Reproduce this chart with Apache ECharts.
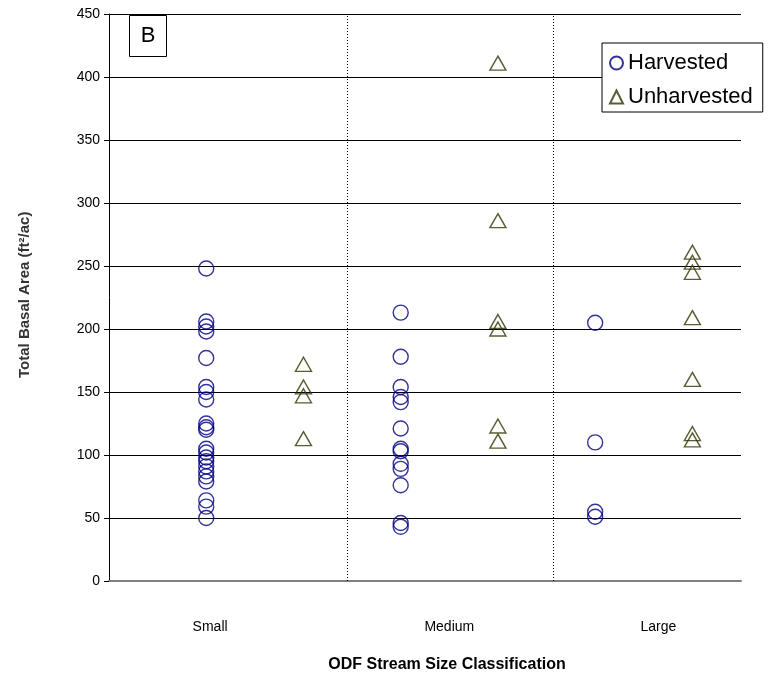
<!DOCTYPE html>
<html>
<head>
<meta charset="utf-8">
<title>Total Basal Area by ODF Stream Size</title>
<script src="https://cdn.jsdelivr.net/npm/echarts@6/dist/echarts.min.js"></script>
<style>
  html, body { margin: 0; padding: 0; background: #fff; }
  #chart { width: 781px; height: 681px; }
</style>
</head>
<body>
<div id="chart"></div>
<script>
// Stream size classes (ODF classification)
const categories = ['Small', 'Medium', 'Large'];

// Total basal area per site, harvested reaches
const harvestedSmall = [248, 206, 202, 198, 177, 154, 150, 144, 125, 122, 120,
  105, 102, 98, 95, 91, 87, 83, 79, 64, 59, 50];
const harvestedMedium = [213, 178, 154, 146, 142, 121, 105, 103, 93, 89, 76, 46, 43];
const harvestedLarge = [205, 110, 55, 51];

// Total basal area per site, unharvested reaches
const unharvestedSmall = [172, 154, 147, 113];
const unharvestedMedium = [411, 286, 206, 200, 123, 111];
const unharvestedLarge = [261, 253, 245, 209, 160, 117, 112];

// Y axis ticks
const yTicks = [0, 50, 100, 150, 200, 250, 300, 350, 400, 450];

// Horizontal slot of each class: harvested at 1/3/5, unharvested at 2/4/6
const harvestedGroups = [harvestedSmall, harvestedMedium, harvestedLarge];
const unharvestedGroups = [unharvestedSmall, unharvestedMedium, unharvestedLarge];

function toPoints(groups, offset) {
  const pts = [];
  groups.forEach((vals, gi) => {
    vals.forEach(v => pts.push([gi * 2 + offset, v]));
  });
  return pts;
}

const FONT = '"Liberation Sans", Arial, sans-serif';
const NAVY = '#000080';
const OLIVE = '#333300';

// Layout of class labels and dotted separators along the x scale
const classLabelX = [1.04, 3.5, 5.65];
const separatorX = [2.45, 4.57];

const chart = echarts.init(document.getElementById('chart'));

const option = {
  animation: false,
  backgroundColor: '#fff',
  grid: { left: 109, top: 14, width: 632, height: 567, containLabel: false },
  xAxis: {
    type: 'value',
    min: 0,
    max: 6.5,
    axisLine: { show: true, onZero: false, lineStyle: { color: '#808080', width: 2 } },
    axisTick: { show: false },
    axisLabel: { show: false },
    splitLine: { show: false }
  },
  yAxis: {
    type: 'value',
    min: yTicks[0],
    max: yTicks[yTicks.length - 1],
    interval: yTicks[1] - yTicks[0],
    axisLine: { show: true, lineStyle: { color: '#000', width: 1 } },
    axisTick: { show: true, length: 5, lineStyle: { color: '#000' } },
    axisLabel: { color: '#000', fontSize: 14, fontFamily: FONT, margin: 9 },
    splitLine: { show: true, lineStyle: { color: '#000', width: 1 } }
  },
  legend: {
    orient: 'vertical',
    left: 602,
    top: 43,
    data: ['Harvested', 'Unharvested'],
    backgroundColor: '#fff',
    borderColor: '#000',
    borderWidth: 1,
    borderRadius: 0,
    padding: [9, 10, 4, 7],
    itemGap: 12,
    itemWidth: 13,
    itemHeight: 13,
    textStyle: { fontSize: 22, color: '#000', fontFamily: FONT, padding: [0, 0, 0, 0] }
  },
  series: [
    {
      name: 'Harvested',
      type: 'scatter',
      symbol: 'circle',
      symbolSize: 15,
      data: toPoints(harvestedGroups, 1),
      itemStyle: { color: 'rgba(0,0,0,0)', borderColor: NAVY, borderWidth: 1.4 },
      markLine: {
        silent: true,
        symbol: 'none',
        label: { show: false },
        lineStyle: { color: '#000', type: [1, 2], width: 1 },
        data: separatorX.map(x => ({ xAxis: x }))
      },
      z: 3
    },
    {
      name: 'Unharvested',
      type: 'scatter',
      symbol: 'triangle',
      symbolSize: [16, 14],
      data: toPoints(unharvestedGroups, 2),
      itemStyle: { color: 'rgba(0,0,0,0)', borderColor: OLIVE, borderWidth: 1.4 },
      z: 3
    }
  ]
};

chart.setOption(option);

// Class labels, axis titles and panel tag
const baseY = chart.convertToPixel({ gridIndex: 0 }, [0, 0])[1];
const graphics = categories.map((name, i) => {
  const px = chart.convertToPixel({ gridIndex: 0 }, [classLabelX[i], 0]);
  return {
    type: 'text',
    x: px[0],
    y: baseY + 46,
    style: {
      text: name, fill: '#000', font: '14px ' + FONT,
      textAlign: 'center', textVerticalAlign: 'middle'
    }
  };
});

graphics.push({
  type: 'text',
  x: 447,
  y: 665,
  style: {
    text: 'ODF Stream Size Classification', fill: '#000',
    font: 'bold 16px ' + FONT, textAlign: 'center', textVerticalAlign: 'middle'
  }
});

graphics.push({
  type: 'text',
  x: 25,
  y: 378,
  rotation: Math.PI / 2,
  style: {
    text: 'Total Basal Area (ft²/ac)', fill: '#333',
    font: 'bold 15px ' + FONT, textAlign: 'left', textVerticalAlign: 'middle'
  }
});

graphics.push({
  type: 'group',
  children: [
    {
      type: 'rect',
      shape: { x: 129.5, y: 15.5, width: 37, height: 41 },
      style: { fill: '#fff', stroke: '#000', lineWidth: 1 }
    },
    {
      type: 'text',
      x: 148,
      y: 36,
      style: {
        text: 'B', fill: '#000', font: '22px ' + FONT,
        textAlign: 'center', textVerticalAlign: 'middle'
      }
    }
  ],
  z: 10
});

chart.setOption({ graphic: graphics });
</script>
</body>
</html>
